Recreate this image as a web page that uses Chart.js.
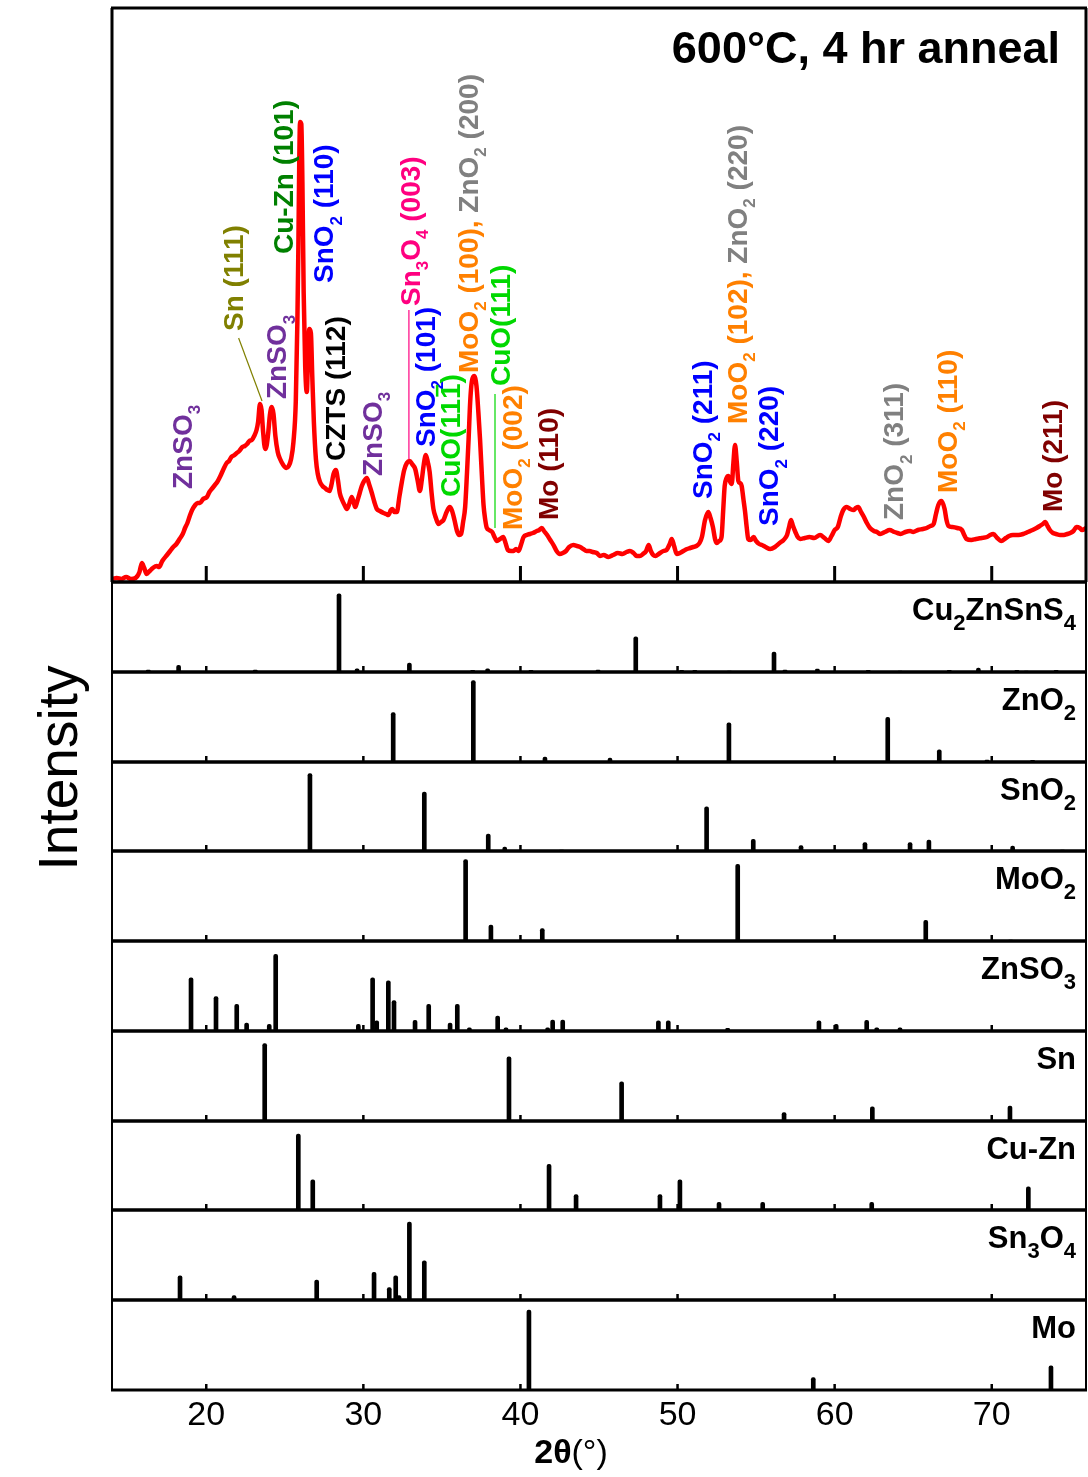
<!DOCTYPE html>
<html>
<head>
<meta charset="utf-8">
<script src="https://cdn.jsdelivr.net/npm/chart.js@4.4.1/dist/chart.umd.min.js"></script>
<style>
  html, body { margin: 0; padding: 0; background: #fff; }
  #figure { position: relative; width: 1088px; height: 1477px; overflow: hidden; background: #fff; }
  #figure canvas { position: absolute; left: 0; }
  #yTitle {
    position: absolute; left: 58px; top: 768px;
    transform: translate(-50%, -50%) rotate(-90deg);
    font: 55px "Liberation Sans", Arial, sans-serif; color: #000; white-space: nowrap;
  }
</style>
</head>
<body>
<div id="figure">
  <div id="yTitle">Intensity</div>
</div>
<script>
// ---------------------------------------------------------------
// measured pattern (600 C, 4 hr anneal), intensity in a.u.
// ---------------------------------------------------------------
const twoTheta = [
  14.0, 14.3, 14.6, 14.9, 15.2, 15.5, 15.75, 15.9, 16.05, 16.2,
  16.4, 16.6, 16.85, 17.0, 17.2, 17.5, 17.7, 17.9, 18.1, 18.3,
  18.5, 18.65, 18.8, 18.95, 19.1, 19.3, 19.45, 19.6, 19.8, 20.04,
  20.2, 20.4, 20.55, 20.7, 20.9, 21.1, 21.3, 21.45, 21.6, 21.8,
  21.94, 22.1, 22.3, 22.45, 22.6, 22.75, 22.9, 23.05, 23.2, 23.3,
  23.42, 23.52, 23.62, 23.75, 23.85, 23.95, 24.05, 24.17, 24.28, 24.4,
  24.55, 24.7, 24.9, 25.1, 25.25, 25.4, 25.55, 25.7, 25.8, 25.86,
  25.92, 25.97, 26.05, 26.12, 26.2, 26.3, 26.4, 26.48, 26.56, 26.66,
  26.75, 26.85, 26.98, 27.1, 27.24, 27.4, 27.56, 27.7, 27.85, 27.98,
  28.1, 28.25, 28.38, 28.5, 28.65, 28.8, 28.95, 29.1, 29.26, 29.38,
  29.48, 29.6, 29.75, 29.9, 30.05, 30.22, 30.38, 30.54, 30.7, 30.86,
  31.05, 31.28, 31.45, 31.6, 31.75, 31.85, 31.98, 32.13, 32.3, 32.45,
  32.6, 32.77, 32.95, 33.1, 33.3, 33.45, 33.6, 33.72, 33.85, 33.98,
  34.1, 34.22, 34.35, 34.46, 34.62, 34.78, 34.95, 35.1, 35.3, 35.5,
  35.65, 35.8, 35.96, 36.1, 36.22, 36.35, 36.48, 36.6, 36.7, 36.8,
  36.9, 37.05, 37.2, 37.32, 37.43, 37.55, 37.65, 37.76, 37.86, 38.0,
  38.2, 38.35, 38.5, 38.7, 38.9, 39.05, 39.2, 39.4, 39.56, 39.72,
  39.88, 40.05, 40.2, 40.4, 40.6, 40.8, 41.04, 41.2, 41.36, 41.5,
  41.7, 41.9, 42.1, 42.3, 42.5, 42.7, 42.9, 43.1, 43.37, 43.6,
  43.8, 44.0, 44.2, 44.4, 44.6, 44.86, 45.06, 45.3, 45.6, 45.9,
  46.2, 46.5, 46.75, 46.97, 47.2, 47.4, 47.6, 47.8, 48.0, 48.16,
  48.3, 48.45, 48.6, 48.8, 49.1, 49.3, 49.5, 49.63, 49.78, 49.95,
  50.15, 50.37, 50.6, 50.8, 51.0, 51.2, 51.4, 51.55, 51.75, 51.96,
  52.1, 52.25, 52.4, 52.5, 52.65, 52.8, 52.9, 53.0, 53.12, 53.24,
  53.35, 53.45, 53.55, 53.66, 53.77, 53.87, 53.97, 54.08, 54.2, 54.3,
  54.4, 54.5, 54.65, 54.84, 55.0, 55.2, 55.37, 55.6, 55.9, 56.2,
  56.5, 56.75, 56.97, 57.1, 57.22, 57.35, 57.5, 57.65, 57.8, 58.1,
  58.4, 58.7, 59.07, 59.35, 59.6, 59.8, 60.0, 60.2, 60.4, 60.55,
  60.77, 61.0, 61.2, 61.35, 61.5, 61.65, 61.83, 62.05, 62.25, 62.5,
  62.7, 62.9, 63.2, 63.5, 63.8, 64.0, 64.2, 64.5, 64.8, 65.0,
  65.3, 65.6, 65.86, 66.1, 66.3, 66.45, 66.6, 66.8, 67.0, 67.12,
  67.25, 67.5, 67.8, 68.1, 68.25, 68.4, 68.7, 69.0, 69.35, 69.7,
  69.9, 70.1, 70.35, 70.6, 70.9, 71.1, 71.35, 71.7, 72.0, 72.3,
  72.6, 72.85, 73.06, 73.25, 73.4, 73.55, 73.7, 73.9, 74.1, 74.35,
  74.6, 74.8, 75.0, 75.2, 75.4, 75.6, 75.75, 76.0
];
const counts = [
  3, 4, 3, 5, 3, 4, 10, 19, 14, 8,
  11, 14, 16, 15, 21, 27, 31, 35, 38, 43,
  48, 54, 59, 66, 72, 77, 79, 79, 83, 85,
  90, 94, 97, 100, 106, 113, 119, 121, 125, 127,
  129, 131, 135, 136, 138, 141, 142, 146, 152, 160,
  178, 172, 150, 133, 137, 150, 167, 175, 168, 146,
  130, 123, 117, 114, 116, 123, 140, 181, 260, 330,
  420, 460, 458, 400, 290, 215, 190, 225, 253, 249,
  205, 160, 123, 108, 100, 96, 94, 92, 91, 98,
  108, 112, 102, 89, 82, 77, 73, 78, 85, 80,
  75, 80, 88, 96, 101, 104, 97, 89, 80, 73,
  71, 69, 68, 67, 72, 73, 70, 70, 86, 100,
  112, 119, 121, 118, 113, 102, 91, 102, 118, 127,
  120, 110, 88, 73, 64, 58, 60, 62, 70, 75,
  71, 62, 51, 47, 48, 60, 75, 110, 143, 180,
  200, 206, 196, 170, 142, 105, 77, 62, 54, 52,
  50, 45, 41, 43, 45, 39, 32, 31, 31, 33,
  31, 38, 45, 47, 48, 49, 51, 52, 54, 51,
  47, 42, 37, 31, 28, 29, 31, 35, 37, 36,
  35, 33, 31, 31, 30, 29, 26, 27, 25, 27,
  29, 28, 30, 31, 29, 26, 26, 28, 31, 37,
  31, 27, 26, 28, 31, 32, 38, 43, 36, 28,
  29, 31, 33, 34, 35, 36, 39, 45, 62, 70,
  64, 55, 42, 39, 41, 45, 70, 96, 104, 106,
  100, 98, 118, 137, 120, 101, 99, 96, 82, 70,
  55, 43, 42, 45, 41, 38, 37, 35, 33, 35,
  39, 42, 47, 55, 62, 56, 50, 45, 43, 44,
  45, 44, 47, 44, 41, 46, 52, 55, 66, 72,
  75, 73, 72, 74, 75, 71, 66, 59, 54, 51,
  50, 48, 50, 52, 50, 49, 48, 50, 51, 50,
  52, 53, 54, 56, 58, 68, 77, 81, 73, 62,
  56, 55, 54, 52, 47, 43, 42, 43, 44, 45,
  47, 48, 44, 41, 44, 46, 47, 47, 48, 50,
  52, 54, 56, 58, 60, 56, 52, 49, 48, 47,
  47, 48, 49, 51, 55, 54, 52, 54
];

const xTickValues = [20, 30, 40, 50, 60, 70];

// ---------------------------------------------------------------
// reference stick patterns: 2-theta positions and relative intensity
// ---------------------------------------------------------------
const cztsPos = [16.31, 18.24, 23.12, 28.45, 29.6, 32.93, 36.96, 37.91, 40.67, 44.94, 47.34, 50.26,
                 51.1, 53.3, 56.14, 56.84, 58.9, 62.14, 64.16, 67.3, 69.15, 71.6, 72.2, 74.1];
const cztsInt = [2.6, 8.6, 2.6, 100, 4.2, 11.5, 2, 4.2, 2, 2.6, 45, 2,
                 2, 1.3, 25.6, 2.6, 3.8, 2, 1.3, 2, 5.1, 2, 1.3, 2];

const zno2Pos = [31.9, 37.0, 41.56, 45.7, 53.27, 63.38, 66.66, 69.7, 72.6];
const zno2Int = [63, 104, 6.4, 5.1, 50, 57, 15.4, 2.6, 2];

const sno2Pos = [26.6, 33.88, 37.95, 39.0, 42.62, 51.85, 54.82, 57.86, 61.93, 64.8, 66.0, 71.33, 74.5];
const sno2Int = [100, 76, 22, 5, 1.3, 57, 15, 7, 11, 11, 14, 6.4, 1.3];

const moo2Pos = [36.51, 38.12, 41.39, 53.83, 65.8, 71.2];
const moo2Int = [104, 20.5, 16, 98, 26.5, 1.3];

const znso3Pos = [19.03, 20.62, 21.94, 22.57, 24.01, 24.42, 29.68, 30.59, 30.85, 31.59, 31.95, 33.29,
                  34.16, 35.52, 35.98, 36.75, 38.55, 39.08, 41.73, 42.05, 42.69, 48.78, 49.41, 53.19,
                  59.0, 60.1, 62.04, 62.68, 64.16];
const znso3Int = [68, 44, 34, 10, 8.6, 98, 8.6, 68, 13, 64, 39, 13.7,
                  34, 10, 34, 4.2, 19, 4.2, 4.2, 14, 14, 13, 13, 3.4,
                  13, 8.6, 13.7, 4.2, 4.2];

const snPos = [23.72, 39.27, 46.44, 56.78, 62.4, 71.16];
const snInt = [99, 82, 50, 10.6, 18, 19];

const cuznPos = [25.86, 26.78, 41.82, 43.54, 48.88, 50.15, 52.64, 55.42, 62.36, 72.33];
const cuznInt = [98, 39, 59, 20, 20, 39, 10, 10, 10, 30];

const sn3o4Pos = [18.33, 21.77, 27.03, 30.68, 31.65, 32.06, 32.27, 32.93, 33.88];
const sn3o4Int = [31, 5.5, 25.6, 35.5, 16, 31, 5.5, 99.5, 50];

const moPos = [40.54, 58.64, 73.77];
const moInt = [102, 16, 31];

// panel order top to bottom; "_x" = subscript character
const refPanels = [
  { name: 'Cu_2ZnSnS_4', pos: cztsPos, int: cztsInt },
  { name: 'ZnO_2', pos: zno2Pos, int: zno2Int },
  { name: 'SnO_2', pos: sno2Pos, int: sno2Int },
  { name: 'MoO_2', pos: moo2Pos, int: moo2Int },
  { name: 'ZnSO_3', pos: znso3Pos, int: znso3Int },
  { name: 'Sn', pos: snPos, int: snInt },
  { name: 'Cu-Zn', pos: cuznPos, int: cuznInt },
  { name: 'Sn_3O_4', pos: sn3o4Pos, int: sn3o4Int },
  { name: 'Mo', pos: moPos, int: moInt }
];

// ---------------------------------------------------------------
// peak assignments on the measured pattern ("^x" = overlined character)
// ---------------------------------------------------------------
const purple = '#70309C', olive = '#808000', green = '#008000', blue = '#0000FF',
      pink = '#FF0080', lime = '#00D800', orange = '#FF8000', grey = '#808080', maroon = '#800000';

const peakLabels = [
  { x: 19.07, y: 93,  parts: [['ZnSO_3', purple]] },
  { x: 22.36, y: 251, parts: [['Sn (111)', olive]] },
  { x: 25.1,  y: 183, parts: [['ZnSO_3', purple]] },
  { x: 25.52, y: 328, parts: [['Cu-Zn (101)', green]] },
  { x: 28.09, y: 299, parts: [['SnO_2 (110)', blue]] },
  { x: 28.83, y: 121, parts: [['CZTS (112)', '#000']] },
  { x: 31.17, y: 106, parts: [['ZnSO_3', purple]] },
  { x: 33.6,  y: 276, parts: [['Sn_3O_4 (003)', pink]] },
  { x: 34.56, y: 135, parts: [['SnO_2 (101)', blue]] },
  { x: 36.15, y: 85,  parts: [['CuO(11^1)', lime]] },
  { x: 37.3,  y: 209, parts: [['MoO_2 (100), ', orange], ['ZnO_2 (200)', grey]] },
  { x: 39.33, y: 196, parts: [['CuO(111)', lime]] },
  { x: 40.08, y: 52,  parts: [['MoO_2 (002)', orange]] },
  { x: 42.41, y: 62,  parts: [['Mo (110)', maroon]] },
  { x: 52.17, y: 83,  parts: [['SnO_2 (211)', blue]] },
  { x: 54.4,  y: 158, parts: [['MoO_2 (102), ', orange], ['ZnO_2 (220)', grey]] },
  { x: 56.41, y: 56,  parts: [['SnO_2 (220)', blue]] },
  { x: 64.37, y: 62,  parts: [['ZnO_2 (311)', grey]] },
  { x: 67.77, y: 89,  parts: [['MoO_2 (110)', orange]] },
  { x: 74.45, y: 70,  parts: [['Mo (211)', maroon]] }
];

const leaderLines = [
  { x: [22.06, 23.55], y: [244, 181], color: olive },
  { x: [32.9, 32.9], y: [272, 123], color: pink },
  { x: [38.38, 38.38], y: [188, 54], color: lime }
];

// ---------------------------------------------------------------
// text helpers
// ---------------------------------------------------------------
const FONT = '"Liberation Sans", Arial, Helvetica, sans-serif';

function parseRuns(str) {
  const runs = [];
  for (let i = 0; i < str.length; i++) {
    const c = str[i];
    if ((c === '_' || c === '^') && i + 1 < str.length) {
      runs.push({ t: str[i + 1], sub: c === '_', over: c === '^' });
      i++;
    } else {
      const last = runs[runs.length - 1];
      if (last && !last.sub && !last.over) last.t += c;
      else runs.push({ t: c, sub: false, over: false });
    }
  }
  return runs;
}

// draws runs of [text, colour] along +x from (x, y); returns advance width
function drawRich(ctx, parts, size, x, y, subScale, subShift, measureOnly) {
  let cx = x;
  parts.forEach(([str, color]) => {
    parseRuns(str).forEach(run => {
      const fs = run.sub ? Math.round(size * subScale) : size;
      ctx.font = `bold ${fs}px ${FONT}`;
      const w = ctx.measureText(run.t).width;
      if (!measureOnly) {
        ctx.fillStyle = color;
        ctx.fillText(run.t, cx, y + (run.sub ? size * subShift : 0));
        if (run.over) ctx.fillRect(cx + w * 0.15, y - size * 0.86, w * 0.75, size * 0.09);
      }
      cx += w;
    });
  });
  return cx - x;
}

// ---------------------------------------------------------------
// plugins
// ---------------------------------------------------------------
const framePlugin = {
  id: 'frame',
  afterDraw(chart, args, opts) {
    const { ctx, chartArea: { left, right, top, bottom }, scales: { x } } = chart;
    ctx.save();
    ctx.strokeStyle = '#000';
    ctx.fillStyle = '#000';

    ctx.lineWidth = opts.sideWidth;
    ctx.beginPath();
    ctx.moveTo(left, top); ctx.lineTo(left, bottom);
    ctx.moveTo(right, top); ctx.lineTo(right, bottom);
    ctx.stroke();

    ctx.lineWidth = opts.topWidth;
    ctx.beginPath();
    ctx.moveTo(left - 1, top); ctx.lineTo(right + 1, top);
    ctx.stroke();
    ctx.lineWidth = opts.bottomWidth;
    ctx.beginPath();
    ctx.moveTo(left - 1, bottom); ctx.lineTo(right + 1, bottom);
    ctx.stroke();

    // inward ticks
    xTickValues.forEach(v => {
      const px = x.getPixelForValue(v);
      ctx.fillRect(px - opts.tickWidth / 2, bottom - opts.tickLen, opts.tickWidth, opts.tickLen);
    });

    // phase name, top right
    if (opts.name) {
      ctx.textBaseline = 'alphabetic';
      const parts = [[opts.name, '#000']];
      const w = drawRich(ctx, parts, 31, 0, 0, 0.72, 0.33, true);
      drawRich(ctx, parts, 31, right - 10 - w, top + 38, 0.72, 0.33, false);
    }

    // tick labels and axis title under the last panel
    if (opts.axisLabels) {
      ctx.textAlign = 'center';
      ctx.textBaseline = 'alphabetic';
      ctx.font = `34px ${FONT}`;
      xTickValues.forEach(v => ctx.fillText(String(v), x.getPixelForValue(v), bottom + 35));

      ctx.textAlign = 'left';
      ctx.font = `bold 34px ${FONT}`;
      const a = ctx.measureText('2θ').width;
      ctx.font = `34px ${FONT}`;
      const b = ctx.measureText('(°)').width;
      const start = (left + right) / 2 - 28 - (a + b) / 2;
      ctx.font = `bold 34px ${FONT}`;
      ctx.fillText('2θ', start, bottom + 73);
      ctx.font = `34px ${FONT}`;
      ctx.fillText('(°)', start + a, bottom + 73);
    }
    ctx.restore();
  }
};

const peakLabelPlugin = {
  id: 'peakLabels',
  afterDatasetsDraw(chart) {
    const { ctx, chartArea, scales: { x, y } } = chart;
    ctx.save();
    ctx.lineWidth = 1.2;
    leaderLines.forEach(l => {
      ctx.strokeStyle = l.color;
      ctx.beginPath();
      ctx.moveTo(x.getPixelForValue(l.x[0]), y.getPixelForValue(l.y[0]));
      ctx.lineTo(x.getPixelForValue(l.x[1]), y.getPixelForValue(l.y[1]));
      ctx.stroke();
    });

    ctx.textBaseline = 'alphabetic';
    ctx.textAlign = 'left';
    peakLabels.forEach(lab => {
      ctx.save();
      ctx.translate(x.getPixelForValue(lab.x), y.getPixelForValue(lab.y));
      ctx.rotate(-Math.PI / 2);
      drawRich(ctx, lab.parts, 28, 0, 0, 0.6, 0.3, false);
      ctx.restore();
    });

    // annealing condition
    ctx.fillStyle = '#000';
    ctx.font = `bold 45px ${FONT}`;
    ctx.textAlign = 'right';
    ctx.fillText('600°C, 4 hr anneal', chartArea.right - 26, chartArea.top + 55);
    ctx.restore();
  }
};

// ---------------------------------------------------------------
// build the stacked charts
// ---------------------------------------------------------------
const figure = document.getElementById('figure');
const W = 1088, H = 1477;
const areaLeft = 112, areaRight = 1086;
const patternTop = 8, patternBottom = 582, refBottom = 1390;
const refHeight = (refBottom - patternBottom) / refPanels.length;

function addCanvas(top, height) {
  const c = document.createElement('canvas');
  c.width = W;
  c.height = height;
  c.style.top = top + 'px';
  c.style.width = W + 'px';
  c.style.height = height + 'px';
  figure.appendChild(c);
  return c;
}

const xScale = { type: 'linear', min: 14, max: 76, display: false, offset: false };

// 1. measured pattern
const patternCanvas = addCanvas(0, patternBottom + 8);
new Chart(patternCanvas, {
  type: 'line',
  data: {
    datasets: [{
      data: twoTheta.map((t, i) => ({ x: t, y: counts[i] })),
      borderColor: '#FF0000',
      borderWidth: 4.5,
      pointRadius: 0,
      cubicInterpolationMode: 'monotone',
      borderJoinStyle: 'round',
      borderCapStyle: 'round'
    }]
  },
  options: {
    responsive: false,
    animation: false,
    devicePixelRatio: 1,
    layout: { padding: { left: areaLeft, right: W - areaRight, top: patternTop, bottom: 8 } },
    scales: {
      x: xScale,
      y: { min: 0, max: 574, display: false }
    },
    plugins: {
      legend: { display: false },
      tooltip: { enabled: false },
      frame: { sideWidth: 3, topWidth: 3, bottomWidth: 3, tickLen: 16, tickWidth: 3 }
    }
  },
  plugins: [peakLabelPlugin, framePlugin]
});

// 2. reference stick patterns
refPanels.forEach((panel, k) => {
  const top = Math.round(patternBottom + k * refHeight);
  const bottom = Math.round(patternBottom + (k + 1) * refHeight);
  const last = k === refPanels.length - 1;
  const cTop = top - 4;
  const cHeight = last ? H - cTop : bottom - top + 8;
  const canvas = addCanvas(cTop, cHeight);

  new Chart(canvas, {
    type: 'bar',
    data: {
      datasets: [{
        data: panel.pos.map((p, i) => ({ x: p, y: panel.int[i] })),
        backgroundColor: '#000',
        barThickness: 4,
        borderRadius: { topLeft: 2, topRight: 2, bottomLeft: 0, bottomRight: 0 },
        borderSkipped: 'start'
      }]
    },
    options: {
      responsive: false,
      animation: false,
      devicePixelRatio: 1,
      layout: { padding: { left: areaLeft, right: W - areaRight, top: 4, bottom: last ? H - bottom : 4 } },
      scales: {
        x: xScale,
        y: { min: 0, max: 115, display: false }
      },
      plugins: {
        legend: { display: false },
        tooltip: { enabled: false },
        frame: {
          sideWidth: 2, topWidth: 3, bottomWidth: 3, tickLen: 6, tickWidth: 2.5,
          name: panel.name, axisLabels: last
        }
      }
    },
    plugins: [framePlugin]
  });
});
</script>
</body>
</html>
